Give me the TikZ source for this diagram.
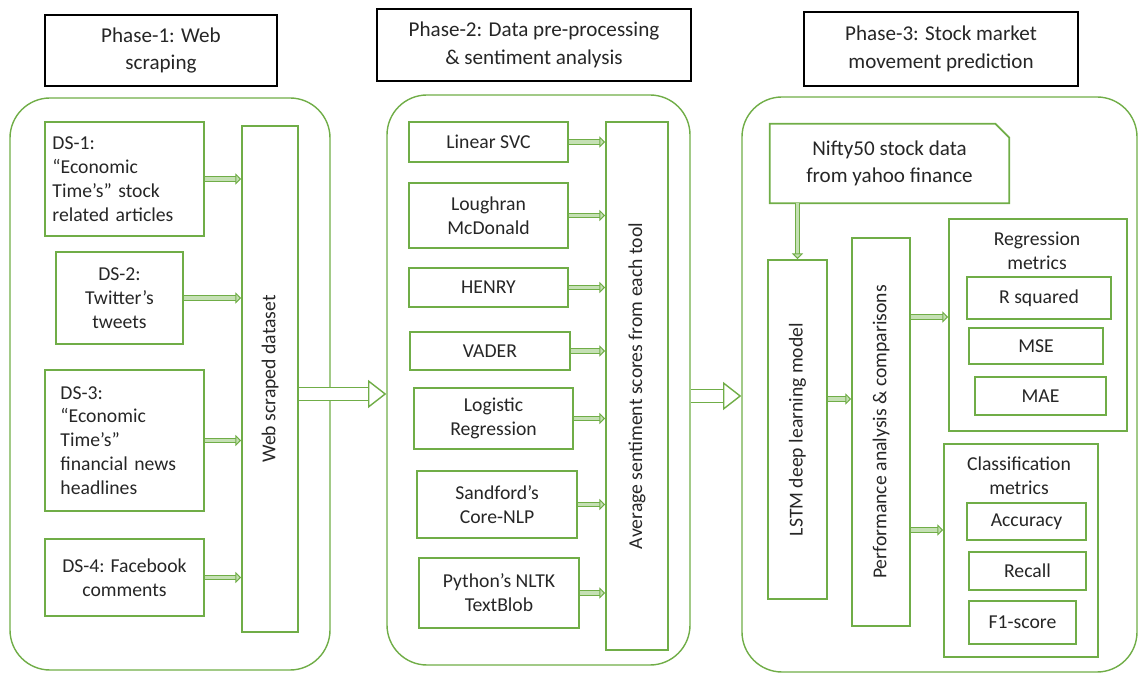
\documentclass[tikz,border=0pt]{standalone}
\usepackage{fontspec}
\setmainfont{Carlito}
\usetikzlibrary{arrows.meta}

\definecolor{fgreen}{HTML}{70AD47}
\definecolor{flight}{HTML}{C5E0B4}
\definecolor{ftext}{HTML}{262626}

\tikzset{
  sz/.style 2 args={minimum width=#1*0.025cm, minimum height=#2*0.025cm},
  titlebox/.style={draw=black, line width=0.9pt, inner sep=0pt, align=center,
    text=ftext, font=\fontsize{15}{19.5}\selectfont},
  phasebox/.style={draw=fgreen, line width=1pt, rounded corners=1cm, inner sep=0pt},
  gbox/.style={draw=fgreen, line width=1.3pt, inner sep=0pt, align=center,
    text=ftext, font=\fontsize{14}{17}\selectfont},
  vbox/.style={gbox, rotate=90},
  plain/.style={inner sep=0pt, align=center, text=ftext,
    font=\fontsize{14}{17}\selectfont},
  feed/.style={draw=fgreen, line width=0.7pt, double=flight, double distance=2.6pt,
    -{Triangle[open, length=4pt, width=8pt, fill=flight]}},
  bigfeed/.style={draw=fgreen, line width=1pt, double=white, double distance=8pt,
    -{Triangle[open, length=13pt, width=20pt, fill=white]}},
}

\begin{document}
\begin{tikzpicture}[x=0.025cm, y=-0.025cm]
\useasboundingbox (0,0) rectangle (1139,674);

% ============================================================ phase titles
\node[titlebox, sz={232}{71}] (t1) at (161,50.5) {Phase-1: Web\\scraping};
\node[titlebox, sz={314}{72}] (t2) at (534,45) {Phase-2: Data pre-processing\\\& sentiment analysis};
\node[titlebox, sz={274}{74}] (t3) at (941,49) {Phase-3: Stock market\\movement prediction};

% ======================================================= the phase frames
\node[phasebox, sz={320}{572}] (ph1) at (170,384) {};
\node[phasebox, sz={303}{570}] (ph2) at (538.5,380) {};
\node[phasebox, sz={395}{575}] (ph3) at (939.5,384.5) {};

% ============================================================== phase 1
% rotated boxes: north is their left side, south their right side
\node[gbox, sz={159}{114}, align=left, text width=3.6cm] (ds1) at (124.5,179)
  {DS-1:\\``Economic\\Time's'' stock\\related articles};
\node[gbox, sz={127}{92}] (ds2) at (119.5,298) {DS-2:\\Twitter's\\tweets};
\node[gbox, sz={159}{141}, align=left, text width=3.2cm] (ds3) at (124.5,440.5)
  {DS-3:\\``Economic\\Time's''\\financial news\\headlines};
\node[gbox, sz={159}{77}] (ds4) at (124.5,577.5) {DS-4: Facebook\\comments};
\node[vbox, sz={506}{56}] (wsd) at (270,379) {Web scraped dataset};

\foreach \s in {ds1,ds2,ds3,ds4}
  \draw[feed] (\s.east) -- (\s.east -| wsd.north);

% ============================================================== phase 2
\node[gbox, sz={159}{40}] (svc) at (488.5,142) {Linear SVC};
\node[gbox, sz={159}{65}] (lmd) at (488.5,215.5) {Loughran\\McDonald};
\node[gbox, sz={159}{39}] (henry) at (488.5,287.5) {HENRY};
\node[gbox, sz={160}{38}] (vader) at (490,351) {VADER};
\node[gbox, sz={159}{61}] (logreg) at (493.5,418.5) {Logistic\\Regression};
\node[gbox, sz={160}{67}] (corenlp) at (497,504.5) {Sandford's\\Core-NLP};
\node[gbox, sz={160}{70}] (nltk) at (499,593) {Python's NLTK\\TextBlob};
\node[vbox, sz={528}{62}] (avg) at (637,386) {Average sentiment scores from each tool};

\foreach \s in {svc,lmd,henry,vader,logreg,corenlp,nltk}
  \draw[feed] (\s.east) -- (\s.east -| avg.north);

% ============================================================== phase 3
\node[plain, sz={239}{79}, font=\fontsize{15}{19}\selectfont] (nifty) at (889.5,163.5)
  {Nifty50 stock data\\from yahoo finance};
\draw[draw=fgreen, line width=1.3pt] (nifty.south west) -- (nifty.north west)
  -- ([xshift=-0.35cm]nifty.north east) -- ([yshift=-0.35cm]nifty.north east)
  -- (nifty.south east) -- cycle;
\node[vbox, sz={339}{59}] (lstm) at (797.5,429.5) {LSTM deep learning model};
\node[vbox, sz={388}{58}] (perf) at (881,432) {Performance analysis \& comparisons};

% metric groups
\node[gbox, sz={178}{212}] (regm) at (1038,325) {};
\node[plain] (regt) at (1037,251) {Regression\\metrics};
\node[gbox, sz={144}{42}] (rsq) at (1039,298) {R squared};
\node[gbox, sz={134}{36}] (mse) at (1036,346) {MSE};
\node[gbox, sz={131}{38}] (mae) at (1040.5,396) {MAE};

\node[gbox, sz={154}{213}] (clsm) at (1021,550.5) {};
\node[plain] (clst) at (1019,476) {Classification\\metrics};
\node[gbox, sz={119}{37}] (acc) at (1026.5,521.5) {Accuracy};
\node[gbox, sz={117}{38}] (rec) at (1027.5,571) {Recall};
\node[gbox, sz={107}{43}] (fone) at (1022.5,622.5) {F1-score};

\draw[feed] (lstm.east |- nifty.south) -- (lstm.east);
\draw[feed] (lstm.south |- 0,399) -- (perf.north |- 0,399);
\draw[feed] (perf.south |- 0,317) -- (regm.west |- 0,317);
\draw[feed] (perf.south |- 0,530) -- (clsm.west |- 0,530);

% ======================================================= between phases
\draw[bigfeed] (wsd.south |- 0,394) -- (ph2.west |- 0,394);
\draw[bigfeed] (ph2.east |- 0,396) -- (ph3.west |- 0,396);

\end{tikzpicture}
\end{document}
